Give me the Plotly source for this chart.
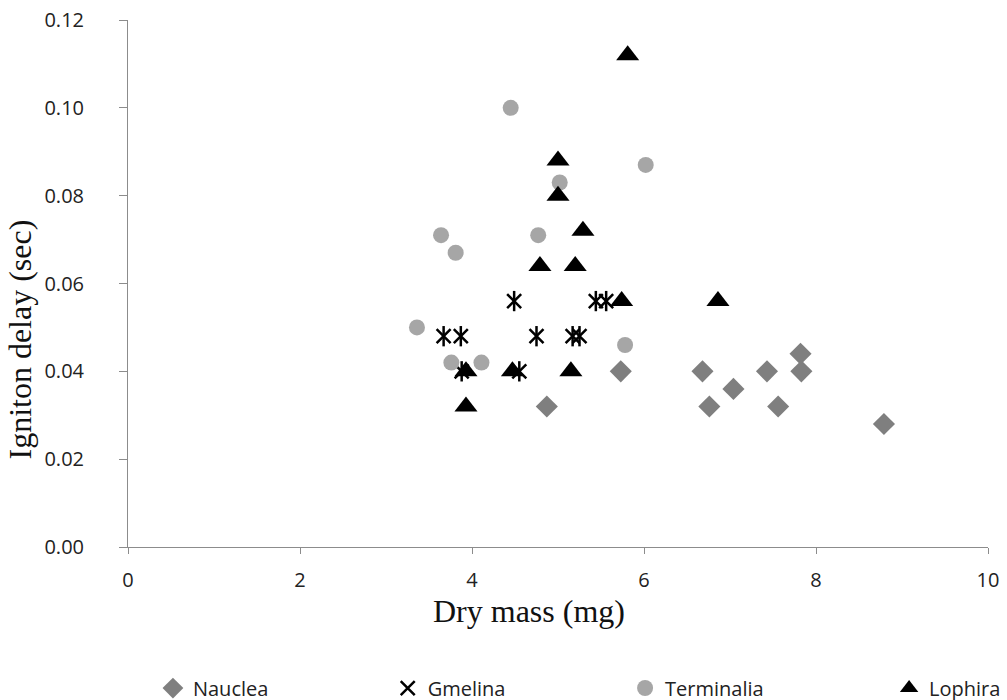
import plotly.graph_objects as go

# Species measured: dry mass (mg) vs ignition delay (sec)
species = ["Nauclea", "Gmelina", "Terminalia", "Lophira"]

nauclea_mass = [4.87, 5.73, 6.68, 6.76, 7.04, 7.43, 7.56, 7.82, 7.83, 8.79]
nauclea_delay = [0.032, 0.040, 0.040, 0.032, 0.036, 0.040, 0.032, 0.044, 0.040, 0.028]

gmelina_mass = [4.49, 5.44, 5.56, 3.67, 3.87, 4.75, 5.17, 5.25, 3.88, 4.55]
gmelina_delay = [0.056, 0.056, 0.056, 0.048, 0.048, 0.048, 0.048, 0.048, 0.040, 0.040]

terminalia_mass = [4.45, 6.02, 5.02, 3.64, 3.81, 4.77, 3.36, 5.78, 3.76, 4.11]
terminalia_delay = [0.100, 0.087, 0.083, 0.071, 0.067, 0.071, 0.050, 0.046, 0.042, 0.042]

lophira_mass = [5.81, 5.00, 5.00, 5.29, 4.79, 5.20, 5.74, 6.86, 3.93, 4.47, 5.15, 3.93]
lophira_delay = [0.112, 0.088, 0.080, 0.072, 0.064, 0.064, 0.056, 0.056, 0.040, 0.040, 0.040, 0.032]

x_ticks = [0, 2, 4, 6, 8, 10]
y_ticks = [0.00, 0.02, 0.04, 0.06, 0.08, 0.10, 0.12]

TICK_FONT = dict(family="Open Sans, DejaVu Sans, sans-serif", size=20, color="#222222")
TITLE_FONT = dict(family="Liberation Serif, Times New Roman, serif", size=32, color="#111111")
AXIS_GREY = "#8c8c8c"

fig = go.Figure()

fig.add_trace(go.Scatter(
    x=nauclea_mass, y=nauclea_delay, mode="markers", name=species[0],
    legend="legend",
    marker=dict(symbol="diamond", size=17, color="#7f7f7f", line=dict(width=0)),
))

# Gmelina star marker: an X crossed by a vertical stroke
fig.add_trace(go.Scatter(
    x=gmelina_mass, y=gmelina_delay, mode="markers", name=species[1],
    legend="legend2", legendgroup="gm",
    marker=dict(symbol="x-thin-open", size=14, color="#000000",
                line=dict(width=2.5, color="#000000")),
))
fig.add_trace(go.Scatter(
    x=gmelina_mass, y=gmelina_delay, mode="markers", name=species[1],
    legend="legend2", legendgroup="gm", showlegend=False,
    marker=dict(symbol="line-ns-open", size=14.5, color="#000000",
                line=dict(width=2.5, color="#000000")),
))

fig.add_trace(go.Scatter(
    x=terminalia_mass, y=terminalia_delay, mode="markers", name=species[2],
    legend="legend3",
    marker=dict(symbol="circle", size=16, color="#a6a6a6", line=dict(width=0)),
))

fig.add_trace(go.Scatter(
    x=lophira_mass, y=lophira_delay, mode="markers", name=species[3],
    legend="legend4",
    marker=dict(symbol="triangle-up", size=20, color="#000000", line=dict(width=0)),
))

# one small legend per species, spread along the bottom of the figure
legend_common = dict(
    orientation="h", xref="paper", yref="paper", xanchor="left", yanchor="middle",
    y=-0.2676, font=TICK_FONT, bgcolor="rgba(0,0,0,0)", borderwidth=0,
    itemwidth=30, itemclick=False, itemdoubleclick=False,
)

fig.update_layout(
    width=1007, height=700,
    paper_bgcolor="white", plot_bgcolor="white",
    margin=dict(l=128, r=19, t=20, b=153, autoexpand=False),
    showlegend=True,
    legend=dict(legend_common, x=0.029),
    legend2=dict(legend_common, x=0.302),
    legend3=dict(legend_common, x=0.578),
    legend4=dict(legend_common, x=0.885),
    xaxis=dict(
        range=[0, 10], tickvals=x_ticks, ticktext=[str(v) for v in x_ticks],
        showgrid=False, zeroline=False, showline=True, linecolor=AXIS_GREY, linewidth=1,
        ticks="outside", ticklen=6, tickcolor=AXIS_GREY, tickfont=TICK_FONT,
        ticklabelstandoff=9,
    ),
    yaxis=dict(
        range=[0, 0.12], tickvals=y_ticks, ticktext=[f"{v:.2f}" for v in y_ticks],
        showgrid=False, zeroline=False, showline=True, linecolor=AXIS_GREY, linewidth=1,
        ticks="outside", ticklen=8, tickcolor=AXIS_GREY, tickfont=TICK_FONT,
        ticklabelstandoff=31,
    ),
    annotations=[
        dict(text="Dry mass (mg)", xref="paper", yref="paper", x=0.466, y=-0.1215,
             xanchor="center", yanchor="middle", showarrow=False, font=TITLE_FONT),
        dict(text="Igniton delay (sec)", xref="paper", yref="paper", x=-0.126, y=0.393,
             xanchor="center", yanchor="middle", textangle=-90, showarrow=False,
             font=TITLE_FONT),
    ],
)

fig.write_html("out.html")
